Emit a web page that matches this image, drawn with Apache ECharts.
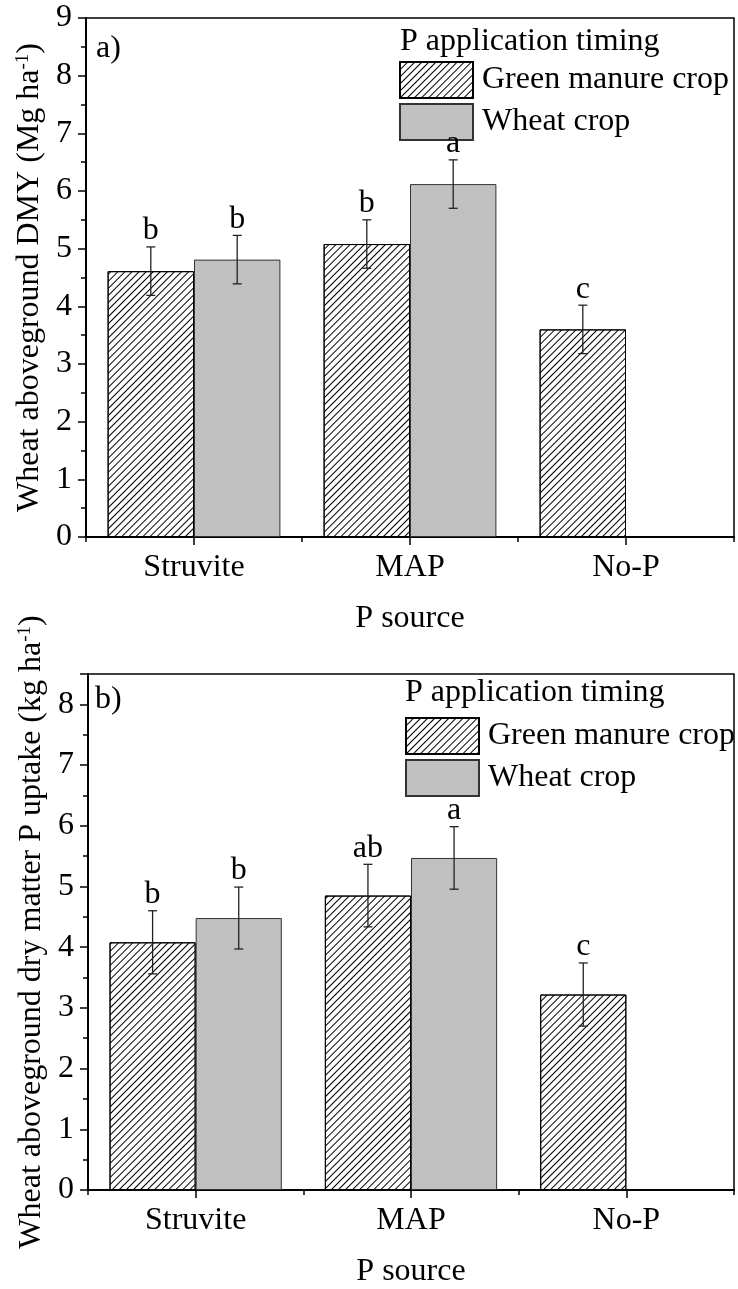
<!DOCTYPE html>
<html>
<head>
<meta charset="utf-8">
<script src="https://cdn.jsdelivr.net/npm/echarts@6/dist/echarts.min.js"></script>
<style>
  html, body { margin: 0; padding: 0; background: #fff; }
  #chart { width: 738px; height: 1289px; }
</style>
</head>
<body>
<div id="chart"></div>
<script>
// P source treatments on the x axis
const categories = ['Struvite', 'MAP', 'No-P'];
const timingNames = ['Green manure crop', 'Wheat crop'];

// a) Wheat aboveground dry matter yield (Mg ha-1)
const dmyGreenManure = [4.61, 5.08, 3.60];
const dmyWheat = [4.81, 6.12, null];
const dmyGreenManureErr = [0.42, 0.42, 0.42];
const dmyWheatErr = [0.42, 0.42, null];
const dmyGreenManureLetters = ['b', 'b', 'c'];
const dmyWheatLetters = ['b', 'a', null];

// b) Wheat aboveground dry matter P uptake (kg ha-1)
const uptakeGreenManure = [4.08, 4.85, 3.22];
const uptakeWheat = [4.48, 5.47, null];
const uptakeGreenManureErr = [0.52, 0.515, 0.52];
const uptakeWheatErr = [0.51, 0.515, null];
const uptakeGreenManureLetters = ['b', 'ab', 'c'];
const uptakeWheatLetters = ['b', 'a', null];

// y axis ranges
const dmyAxis = { min: 0, max: 9, interval: 1 };
const uptakeAxis = { min: 0, max: 8.5, interval: 1 };

const FONT = "'Liberation Serif', 'Times New Roman', serif";
// forward-slash hatching for the green manure bars
const hatch = {
  symbol: 'rect',
  symbolSize: 1,
  dashArrayX: [1, 0],
  dashArrayY: [1, 4],
  rotation: -Math.PI / 4,
  color: '#000'
};

const chart = echarts.init(document.getElementById('chart'), null, { renderer: 'canvas' });

function barSeries(name, xi, yi, data, isHatched) {
  return {
    type: 'bar',
    name: name,
    xAxisIndex: xi,
    yAxisIndex: yi,
    data: data,
    barGap: '0%',
    barCategoryGap: '20%',
    itemStyle: isHatched
      ? { color: '#fff', borderColor: '#000', borderWidth: 1, decal: hatch }
      : { color: '#c0c0c0', borderColor: '#333', borderWidth: 1 },
    emphasis: { disabled: true }
  };
}

// error bars and significance letters, drawn at the centre of the matching bar slot
function errorSeries(xi, yi, slot, values, errs, letters) {
  const data = [];
  values.forEach((v, i) => { if (v != null) data.push([i, v, errs[i]]); });
  return {
    type: 'custom',
    xAxisIndex: xi,
    yAxisIndex: yi,
    z: 5,
    silent: true,
    data: data,
    encode: { x: 0, y: 1 },
    renderItem: function (params, api) {
      const i = api.value(0), v = api.value(1), e = api.value(2);
      const band = api.size([1, 0])[0];
      const cx = api.coord([i, v])[0] + slot * band * 0.2;
      const yTop = api.coord([i, v + e])[1];
      const yBot = api.coord([i, v - e])[1];
      const half = 4.5;
      const ls = { stroke: '#222', lineWidth: 1.3 };
      return {
        type: 'group',
        children: [
          { type: 'line', shape: { x1: cx, y1: yTop, x2: cx, y2: yBot }, style: ls },
          { type: 'line', shape: { x1: cx - half, y1: yTop, x2: cx + half, y2: yTop }, style: ls },
          { type: 'line', shape: { x1: cx - half, y1: yBot, x2: cx + half, y2: yBot }, style: ls },
          {
            type: 'text',
            style: {
              text: letters[i], x: cx, y: yTop,
              align: 'center', verticalAlign: 'bottom',
              font: '32px ' + FONT, fill: '#000'
            }
          }
        ]
      };
    }
  };
}

function valueAxis(gridIndex, range, title) {
  return {
    type: 'value',
    gridIndex: gridIndex,
    min: range.min,
    max: range.max,
    interval: range.interval,
    name: title,
    nameLocation: 'middle',
    nameGap: 30,
    nameTextStyle: {
      color: '#000', fontFamily: FONT, fontSize: 32,
      rich: {
        t: { color: '#000', fontFamily: FONT, fontSize: 32 },
        s: { color: '#000', fontFamily: FONT, fontSize: 19, verticalAlign: 'top' }
      }
    },
    axisLine: { show: true, lineStyle: { color: '#000', width: 2 } },
    axisTick: { show: true, inside: false, length: 8, lineStyle: { color: '#000', width: 1.5 } },
    minorTick: { show: true, splitNumber: 2, length: 5, lineStyle: { color: '#000', width: 1.5 } },
    splitLine: { show: false },
    axisLabel: {
      color: '#000', fontFamily: FONT, fontSize: 32, margin: 14,
      formatter: v => (Number.isInteger(v) ? String(v) : '')
    }
  };
}

function categoryAxes(gridIndex) {
  return [
    {
      type: 'category',
      gridIndex: gridIndex,
      position: 'bottom',
      data: categories,
      boundaryGap: true,
      name: 'P source',
      nameLocation: 'middle',
      nameGap: 66,
      nameTextStyle: { color: '#000', fontFamily: FONT, fontSize: 32 },
      axisLine: { show: true, lineStyle: { color: '#000', width: 2 } },
      axisTick: { show: true, alignWithLabel: true, inside: false, length: 8, lineStyle: { color: '#000', width: 1.5 } },
      axisLabel: { color: '#000', fontFamily: FONT, fontSize: 32, margin: 15 },
      splitLine: { show: false }
    },
    {
      // short ticks on the category boundaries
      type: 'category',
      gridIndex: gridIndex,
      position: 'bottom',
      data: categories,
      boundaryGap: true,
      axisLine: { show: false },
      axisTick: { show: true, inside: false, length: 5, lineStyle: { color: '#000', width: 1.5 } },
      axisLabel: { show: false },
      splitLine: { show: false }
    }
  ];
}

function legendAt(left, top) {
  return {
    data: timingNames,
    orient: 'vertical',
    left: left,
    top: top,
    padding: 0,
    itemWidth: 73,
    itemHeight: 36,
    itemGap: 4,
    icon: 'rect',
    selectedMode: false,
    textStyle: { color: '#000', fontFamily: FONT, fontSize: 32, lineHeight: 36, padding: [0, 0, 0, 4] }
  };
}

function plainText(text, left, top) {
  return {
    type: 'text', left: left, top: top, silent: true,
    style: { text: text, font: '32px ' + FONT, fill: '#000' }
  };
}

const option = {
  animation: false,
  backgroundColor: '#fff',
  grid: [
    { left: 86, right: 4, top: 18, height: 519, show: true, borderColor: '#000', borderWidth: 1.5, backgroundColor: 'transparent' },
    { left: 88, right: 4, top: 674, height: 518.5, show: true, borderColor: '#000', borderWidth: 1.5, backgroundColor: 'transparent' }
  ],
  xAxis: [].concat(categoryAxes(0), categoryAxes(1)),
  yAxis: [
    valueAxis(0, dmyAxis, '{t|Wheat aboveground DMY (Mg ha}{s|-1}{t|)}'),
    valueAxis(1, uptakeAxis, '{t|Wheat aboveground dry matter P uptake (kg ha}{s|-1}{t|)}')
  ],
  legend: [legendAt(399, 61), legendAt(405, 717)],
  graphic: [
    plainText('a)', 96, 33),
    plainText('P application timing', 400, 26),
    plainText('b)', 95, 684),
    plainText('P application timing', 405, 677)
  ],
  series: [
    barSeries(timingNames[0], 0, 0, dmyGreenManure, true),
    barSeries(timingNames[1], 0, 0, dmyWheat, false),
    barSeries(timingNames[0], 2, 1, uptakeGreenManure, true),
    barSeries(timingNames[1], 2, 1, uptakeWheat, false),
    errorSeries(0, 0, -1, dmyGreenManure, dmyGreenManureErr, dmyGreenManureLetters),
    errorSeries(0, 0, 1, dmyWheat, dmyWheatErr, dmyWheatLetters),
    errorSeries(2, 1, -1, uptakeGreenManure, uptakeGreenManureErr, uptakeGreenManureLetters),
    errorSeries(2, 1, 1, uptakeWheat, uptakeWheatErr, uptakeWheatLetters)
  ]
};

chart.setOption(option);
</script>
</body>
</html>
